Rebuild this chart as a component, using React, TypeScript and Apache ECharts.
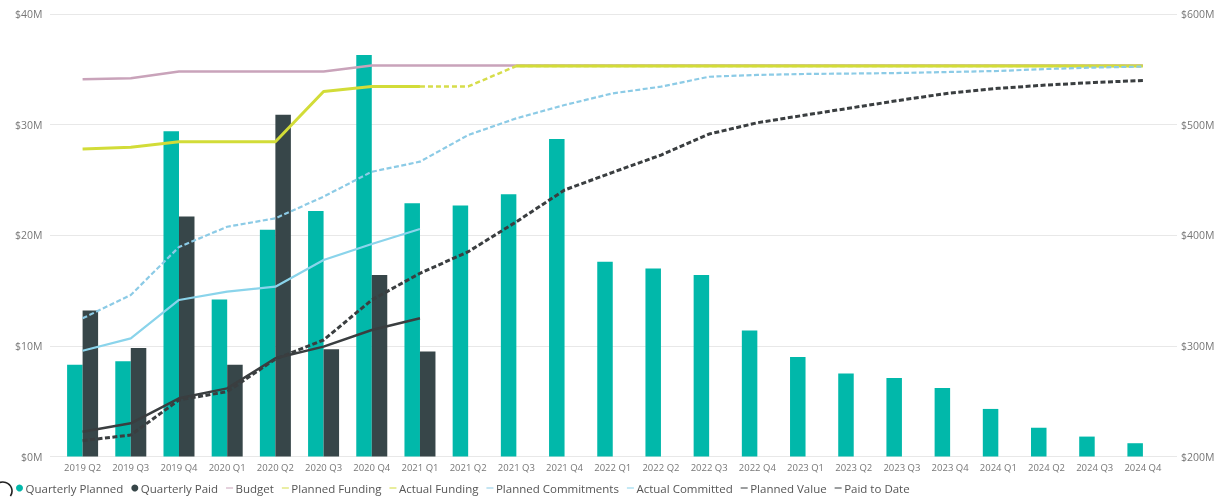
import React, { useEffect, useRef } from 'react';
import * as echarts from 'echarts';

const categories = [
  '2019 Q2', '2019 Q3', '2019 Q4', '2020 Q1', '2020 Q2', '2020 Q3', '2020 Q4', '2021 Q1',
  '2021 Q2', '2021 Q3', '2021 Q4', '2022 Q1', '2022 Q2', '2022 Q3', '2022 Q4', '2023 Q1',
  '2023 Q2', '2023 Q3', '2023 Q4', '2024 Q1', '2024 Q2', '2024 Q3', '2024 Q4',
];

// $M, left axis
const quarterlyPlanned = [8.3, 8.6, 29.4, 14.2, 20.5, 22.2, 36.3, 22.9, 22.7, 23.7, 28.7, 17.6, 17.0, 16.4, 11.4, 9.0, 7.5, 7.1, 6.2, 4.3, 2.6, 1.8, 1.2];
const quarterlyPaid = [13.2, 9.8, 21.7, 8.3, 30.9, 9.7, 16.4, 9.5, null, null, null, null, null, null, null, null, null, null, null, null, null, null, null];

// $M, right axis (cumulative)
const budget = [541, 542, 548, 548, 548, 548, 553.5, 553.5, 553.5, 553.5, 553.5, 553.5, 553.5, 553.5, 553.5, 553.5, 553.5, 553.5, 553.5, 553.5, 553.5, 553.5, 553.5];
const plannedFunding = [null, null, null, null, null, null, null, 534.5, 534.5, 553, 553, 553, 553, 553, 553, 553, 553, 553, 553, 553, 553, 553, 553];
const actualFunding = [478, 479.5, 484.5, 484.5, 484.5, 530, 534.5, 534.5, null, 553, 553, 553, 553, 553, 553, 553, 553, 553, 553, 553, 553, 553, 553];
const plannedCommitments = [324.9, 346, 389.4, 407.7, 415.3, 434.9, 457.4, 466.5, 490.6, 505.7, 517.7, 528.3, 534.3, 543.3, 544.9, 545.8, 546.2, 546.7, 547.6, 548.5, 550.3, 551.6, 552.5];
const actualCommitted = [295.6, 306.8, 341.5, 349, 353.5, 377.6, 392.1, 405.6, null, null, null, null, null, null, null, null, null, null, null, null, null, null, null];
const plannedValue = [214.3, 219.4, 251.1, 258.6, 288.1, 305.3, 341.5, 365.6, 385.1, 412.2, 440.9, 456.9, 472.5, 491.5, 501.7, 508.7, 515.5, 522.3, 528.6, 532.8, 535.8, 538.1, 539.9];
const paidToDate = [222.4, 230, 252.6, 261.6, 288.8, 299.3, 314.4, 324.9, null, null, null, null, null, null, null, null, null, null, null, null, null, null, null];

const leftTicks = { min: 0, max: 40, interval: 10 };
const rightTicks = { min: 200, max: 600, interval: 100 };

const dashIcon = 'path://M0,4.3H10V5.7H0Z M0,0H0.01V10H0Z';

export default function App() {
  const ref = useRef<HTMLDivElement>(null);
  useEffect(() => {
    const chart = echarts.init(ref.current as HTMLDivElement, null, { renderer: 'svg' });
    const font = "'Open Sans', sans-serif";
    const lbl = '#777777';
    const line = (name: string, data: any[], color: string, width: number, type: any, z: number) => ({
      name,
      type: 'line',
      yAxisIndex: 1,
      data,
      symbol: 'none',
      z,
      lineStyle: { color, width, type, cap: 'butt' },
      itemStyle: { color },
      connectNulls: false,
    });
    const lineNames = ['Budget', 'Planned Funding', 'Actual Funding', 'Planned Commitments', 'Actual Committed', 'Planned Value', 'Paid to Date'];
    chart.setOption({
      animation: false,
      textStyle: { fontFamily: font },
      grid: [
        { left: 58.5, right: 51, top: 14, bottom: 40.5 },
        { left: 50, right: 41, top: 14, bottom: 40.5 },
      ],
      xAxis: [
        {
          type: 'category', data: categories, gridIndex: 0,
          axisLine: { show: false }, axisTick: { show: false },
          axisLabel: { color: lbl, fontSize: 9.5, margin: 6, interval: 0, fontFamily: font },
        },
        { type: 'value', gridIndex: 1, show: false, min: 0, max: 1 },
      ],
      yAxis: [
        {
          type: 'value', gridIndex: 0, position: 'left', ...leftTicks,
          splitLine: { show: false }, axisLine: { show: false }, axisTick: { show: false },
          axisLabel: { formatter: (v: number) => `$${v}M`, color: lbl, fontSize: 10.5, margin: 16, fontFamily: font },
        },
        {
          type: 'value', gridIndex: 0, position: 'right', ...rightTicks,
          splitLine: { show: false }, axisLine: { show: false }, axisTick: { show: false },
          axisLabel: { formatter: (v: number) => `$${v}M`, color: lbl, fontSize: 10.5, margin: 14, fontFamily: font },
        },
        {
          type: 'value', gridIndex: 1, ...leftTicks,
          axisLine: { show: false }, axisTick: { show: false }, axisLabel: { show: false },
          splitLine: { show: true, lineStyle: { color: '#e8e8e8', width: 1 } },
        },
      ],
      legend: {
        left: 11, top: 477, itemWidth: 8, itemHeight: 7, itemGap: 8,
        textStyle: { color: '#555555', fontSize: 11.5, fontFamily: font, padding: [0, 0, 0, -3] },
        data: [
          { name: 'Quarterly Planned', icon: 'circle' },
          { name: 'Quarterly Paid', icon: 'circle' },
          ...lineNames.map((n) => ({ name: n, icon: dashIcon })),
        ],
      },
      graphic: [
        {
          type: 'arc',
          shape: { cx: 3, cy: 491, r: 9, startAngle: -Math.PI, endAngle: 0.6, clockwise: true },
          style: { stroke: '#222222', lineWidth: 1.6, fill: 'none' },
        },
      ],
      series: [
        {
          name: 'Quarterly Planned', type: 'bar', data: quarterlyPlanned, barWidth: 15.5, barGap: '0%',
          itemStyle: { color: '#01B8AA' }, z: 2,
        },
        {
          name: 'Quarterly Paid', type: 'bar', data: quarterlyPaid, barWidth: 15.5, barGap: '0%',
          itemStyle: { color: '#374649' }, z: 2,
        },
        line('Budget', budget, '#C9A3BA', 2.5, 'solid', 3),
        line('Planned Funding', plannedFunding, '#D6DD4A', 2.5, [5, 3], 4),
        line('Actual Funding', actualFunding, '#D2DC38', 3, 'solid', 5),
        line('Planned Commitments', plannedCommitments, '#8CCBE6', 2.2, [5, 2.5], 6),
        line('Actual Committed', actualCommitted, '#8AD4EB', 2.2, 'solid', 6),
        line('Planned Value', plannedValue, '#3A3E40', 3, [5, 2.5], 7),
        line('Paid to Date', paidToDate, '#3A3E40', 2.5, 'solid', 7),
      ],
    });
    return () => chart.dispose();
  }, []);
  return <div ref={ref} style={{ position: 'fixed', left: 0, top: 0, width: 1218, height: 497 }} />;
}
